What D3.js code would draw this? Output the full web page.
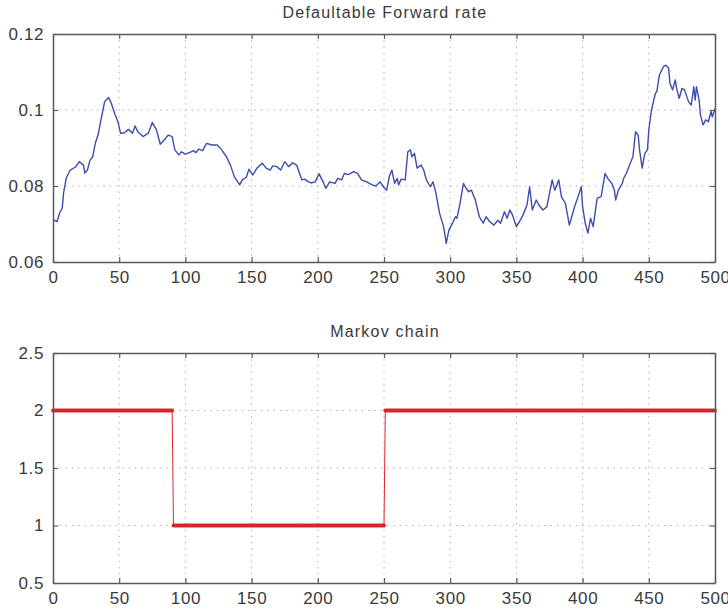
<!DOCTYPE html>
<html>
<head>
<meta charset="utf-8">
<script src="https://cdn.jsdelivr.net/npm/d3@7"></script>
<style>
  html, body { margin: 0; padding: 0; background: #fff; }
  svg { display: block; font-family: "Liberation Sans", Arial, Helvetica, sans-serif; }
</style>
</head>
<body>
<svg id="chart" width="728" height="615"></svg>
<script>
// Defaultable forward rate path (time step, rate)
const fwdTime = [0, 3, 5, 7, 8, 10, 13, 17, 20, 23, 24, 26, 28, 30, 32, 34, 37, 39, 42, 44,
  47, 49, 51, 54, 57, 60, 62, 64, 68, 72, 75, 78, 81, 84, 87, 90, 92, 95, 97, 100,
  103, 106, 108, 110, 113, 116, 120, 124, 127, 131, 134, 137, 141, 143, 146, 148, 151, 154, 158, 161,
  164, 166, 169, 172, 175, 178, 181, 184, 188, 190, 193, 195, 198, 201, 204, 206, 209, 213, 215, 218,
  220, 223, 227, 230, 233, 237, 241, 244, 247, 250, 252, 254, 256, 258, 260, 261, 263, 266, 268, 270,
  271, 273, 275, 278, 280, 282, 285, 287, 289, 292, 295, 297, 299, 301, 304, 305, 307, 310, 312, 314,
  316, 319, 322, 325, 327, 330, 333, 336, 338, 341, 343, 345, 347, 350, 353, 355, 358, 360, 362, 365,
  367, 370, 373, 377, 379, 382, 384, 387, 390, 394, 397, 399, 400, 402, 404, 406, 408, 411, 414, 417,
  419, 422, 424, 425, 427, 430, 431, 433, 436, 438, 440, 442, 443, 445, 447, 449, 450, 452, 455, 456,
  458, 461, 463, 465, 466, 468, 470, 471, 473, 475, 477, 480, 482, 484, 485, 486, 488, 489, 491, 493,
  495, 497, 498, 500];
const fwdRate = [0.0711, 0.0706, 0.0729, 0.0742, 0.0782, 0.0821, 0.0842, 0.0850, 0.0864, 0.0855,
  0.0834, 0.0842, 0.0868, 0.0877, 0.0913, 0.0934, 0.0987, 0.1022, 0.1033, 0.1018,
  0.0987, 0.0969, 0.0939, 0.0940, 0.0949, 0.0939, 0.0958, 0.0943, 0.0930, 0.0939,
  0.0967, 0.0949, 0.0910, 0.0921, 0.0934, 0.0930, 0.0895, 0.0882, 0.0890, 0.0884,
  0.0888, 0.0893, 0.0888, 0.0897, 0.0893, 0.0912, 0.0908, 0.0908, 0.0897, 0.0877,
  0.0855, 0.0824, 0.0803, 0.0816, 0.0823, 0.0844, 0.0829, 0.0847, 0.0860, 0.0847,
  0.0842, 0.0853, 0.0851, 0.0842, 0.0864, 0.0851, 0.0861, 0.0855, 0.0816, 0.0818,
  0.0811, 0.0808, 0.0811, 0.0832, 0.0811, 0.0794, 0.0811, 0.0807, 0.0820, 0.0816,
  0.0833, 0.0830, 0.0838, 0.0833, 0.0816, 0.0811, 0.0803, 0.0800, 0.0811, 0.0796,
  0.0789, 0.0825, 0.0842, 0.0807, 0.0820, 0.0803, 0.0818, 0.0816, 0.0890, 0.0895,
  0.0877, 0.0886, 0.0847, 0.0855, 0.0842, 0.0816, 0.0798, 0.0811, 0.0785, 0.0728,
  0.0693, 0.0649, 0.0684, 0.0697, 0.0719, 0.0715, 0.0746, 0.0807, 0.0794, 0.0785,
  0.0789, 0.0763, 0.0719, 0.0702, 0.0719, 0.0706, 0.0697, 0.0710, 0.0702, 0.0732,
  0.0715, 0.0737, 0.0724, 0.0693, 0.0710, 0.0724, 0.0750, 0.0798, 0.0737, 0.0763,
  0.0750, 0.0737, 0.0745, 0.0816, 0.0789, 0.0816, 0.0772, 0.0754, 0.0697, 0.0746,
  0.0776, 0.0798, 0.0746, 0.0702, 0.0676, 0.0715, 0.0693, 0.0768, 0.0772, 0.0833,
  0.0820, 0.0807, 0.0789, 0.0763, 0.0789, 0.0807, 0.0820, 0.0833, 0.0860, 0.0877,
  0.0943, 0.0934, 0.0895, 0.0847, 0.0886, 0.0895, 0.0947, 0.1000, 0.1044, 0.1048,
  0.1092, 0.1114, 0.1118, 0.1110, 0.1070, 0.1053, 0.1079, 0.1057, 0.1031, 0.1057,
  0.1053, 0.1022, 0.1013, 0.1061, 0.1026, 0.1061, 0.1026, 0.0987, 0.0961, 0.0974,
  0.0969, 0.0996, 0.0982, 0.1004];

// Markov chain: regime changes (time at which each state begins)
const markovStart = [0, 91, 251];
const markovState = [2, 1, 2];
const horizon = 500;

// Axis ticks
const xTicks = [0, 50, 100, 150, 200, 250, 300, 350, 400, 450, 500];
const fwdTicks = [0.06, 0.08, 0.1, 0.12];
const markovTicks = [0.5, 1, 1.5, 2, 2.5];

const svg = d3.select("#chart");
const left = 53, right = 715;

function panel(cfg) {
  const x = d3.scaleLinear().domain([0, 500]).range([left, right]);
  const y = d3.scaleLinear().domain(cfg.yDomain).range([cfg.bottom, cfg.top]);
  const g = svg.append("g");

  // dotted grid
  g.append("g").selectAll("line").data(xTicks.slice(1, -1)).join("line")
    .attr("x1", d => x(d)).attr("x2", d => x(d))
    .attr("y1", cfg.top).attr("y2", cfg.bottom)
    .attr("stroke", "#a8a8a8").attr("stroke-width", 1).attr("stroke-dasharray", "1.3,5");
  g.append("g").selectAll("line").data(cfg.yTicks.slice(1, -1)).join("line")
    .attr("x1", left).attr("x2", right)
    .attr("y1", d => y(d)).attr("y2", d => y(d))
    .attr("stroke", "#a8a8a8").attr("stroke-width", 1).attr("stroke-dasharray", "1.3,5");

  cfg.draw(g, x, y);

  // axes with inward ticks on all four sides
  const fmt = d => String(d);
  const axB = g.append("g").attr("transform", `translate(0,${cfg.bottom})`)
    .call(d3.axisBottom(x).tickValues(xTicks).tickFormat(fmt).tickSizeInner(-5).tickSizeOuter(0).tickPadding(9));
  const axT = g.append("g").attr("transform", `translate(0,${cfg.top})`)
    .call(d3.axisTop(x).tickValues(xTicks).tickFormat("").tickSizeInner(-5).tickSizeOuter(0));
  const axL = g.append("g").attr("transform", `translate(${left},0)`)
    .call(d3.axisLeft(y).tickValues(cfg.yTicks).tickFormat(fmt).tickSizeInner(-5).tickSizeOuter(0).tickPadding(9));
  const axR = g.append("g").attr("transform", `translate(${right},0)`)
    .call(d3.axisRight(y).tickValues(cfg.yTicks).tickFormat("").tickSizeInner(-5).tickSizeOuter(0));
  [axB, axT, axL, axR].forEach(a => {
    a.select(".domain").attr("stroke", "#5a5a5a").attr("stroke-width", 1.5);
    a.selectAll(".tick line").attr("stroke", "#5a5a5a").attr("stroke-width", 1.2);
    a.selectAll("text").attr("fill", "#3a3a3a").attr("font-size", 17)
      .attr("letter-spacing", 0.6)
      .attr("font-family", "'Liberation Sans', Arial, sans-serif");
  });

  svg.append("text").attr("x", 385).attr("y", cfg.top - 16)
    .attr("text-anchor", "middle").attr("font-size", 16).attr("letter-spacing", 1.2)
    .attr("fill", "#3a3a3a")
    .text(cfg.title);
}

panel({
  top: 34, bottom: 262, yDomain: [0.06, 0.12], yTicks: fwdTicks,
  title: "Defaultable Forward rate",
  draw: (g, x, y) => {
    const pts = fwdTime.map((t, i) => [t, fwdRate[i]]);
    g.append("path").datum(pts)
      .attr("fill", "none").attr("stroke", "#3d4dab").attr("stroke-width", 1.4)
      .attr("stroke-linejoin", "round")
      .attr("d", d3.line().x(d => x(d[0])).y(d => y(d[1])));
  }
});

panel({
  top: 353, bottom: 583, yDomain: [0.5, 2.5], yTicks: markovTicks,
  title: "Markov chain",
  draw: (g, x, y) => {
    // expand regime list to one state per time step
    const series = d3.range(0, horizon + 1).map(t => {
      let k = 0;
      for (let i = 0; i < markovStart.length; i++) if (t >= markovStart[i]) k = i;
      return [t, markovState[k]];
    });
    g.append("path").datum(series)
      .attr("fill", "none").attr("stroke", "#e0262b").attr("stroke-width", 1)
      .attr("d", d3.line().x(d => x(d[0])).y(d => y(d[1])));
    g.append("g").selectAll("circle").data(series).join("circle")
      .attr("cx", d => x(d[0])).attr("cy", d => y(d[1])).attr("r", 1.9)
      .attr("fill", "#d8262b");
  }
});
</script>
</body>
</html>
